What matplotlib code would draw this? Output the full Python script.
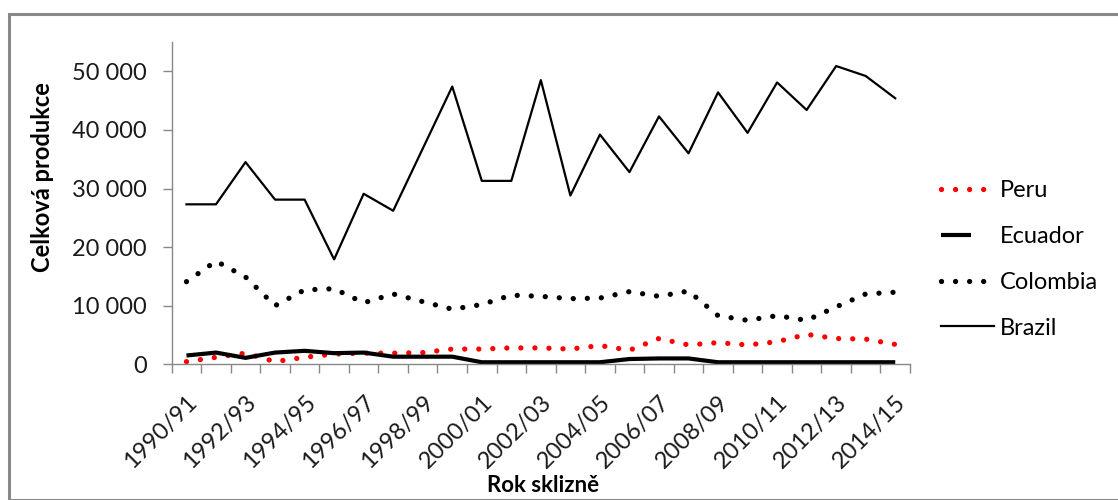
import matplotlib
matplotlib.use("Agg")
import numpy as np
import matplotlib.pyplot as plt
import matplotlib.transforms as mtransforms
from matplotlib.ticker import FuncFormatter, FixedLocator
from matplotlib.patches import Rectangle
from matplotlib.legend_handler import HandlerLine2D

years = ["1990/91", "1991/92", "1992/93", "1993/94", "1994/95", "1995/96", "1996/97",
         "1997/98", "1998/99", "1999/00", "2000/01", "2001/02", "2002/03", "2003/04",
         "2004/05", "2005/06", "2006/07", "2007/08", "2008/09", "2009/10", "2010/11",
         "2011/12", "2012/13", "2013/14", "2014/15"]

peru = [450, 1200, 1900, 450, 1200, 1750, 1900, 1900, 2000, 2600, 2600, 2800, 2800,
        2600, 3200, 2400, 4400, 3300, 3700, 3300, 3850, 5100, 4400, 4300, 3400]
ecuador = [1500, 2000, 1100, 2000, 2300, 1900, 2000, 1300, 1300, 1300, 350, 350, 350,
           350, 350, 900, 1000, 1000, 350, 350, 350, 350, 350, 350, 350]
colombia = [14100, 17600, 14900, 10000, 12700, 12900, 10500, 12000, 10700, 9400, 10200,
            11800, 11600, 11200, 11300, 12400, 11600, 12500, 8300, 7500, 8300, 7500,
            9800, 12000, 12300]
brazil = [27300, 27300, 34500, 28100, 28100, 17900, 29100, 26200, 36800, 47400, 31300,
          31300, 48500, 28800, 39200, 32800, 42300, 36000, 46400, 39500, 48100, 43400,
          50900, 49200, 45400]

FONT = "Lato"
plt.rcParams['font.family'] = [FONT, 'DejaVu Sans']

fig = plt.figure(figsize=(11.18, 5.0), dpi=100)
W, H = 1118, 500
ax = fig.add_axes([171.7 / W, 1 - 364.3 / H, (910 - 171.7) / W, (364.3 - 42) / H])

x = list(range(len(years)))
ax.plot(x, peru, color="red", lw=3.8, linestyle=(0, (0.01, 2.65)),
        dash_capstyle="round", label="Peru")
l_ec, = ax.plot(x, ecuador, color="black", lw=3.0, solid_capstyle="butt", label="Ecuador")
ax.plot(x, colombia, color="black", lw=3.8, linestyle=(0, (0.01, 2.65)),
        dash_capstyle="round", label="Colombia")
ax.plot(x, brazil, color="black", lw=1.6, label="Brazil")

ax.set_xlim(-0.5, len(years) - 0.5)
ax.set_ylim(0, 55000)
ax.set_yticks([0, 10000, 20000, 30000, 40000, 50000])
ax.yaxis.set_major_formatter(FuncFormatter(lambda v, p: f"{int(v):,}".replace(",", " ")))

ax.xaxis.set_major_locator(FixedLocator([i - 0.5 for i in range(len(years) + 1)]))
ax.xaxis.set_major_formatter(FuncFormatter(lambda v, p: ""))
ax.set_xticks(x[::2], minor=True)
labels = ax.set_xticklabels(years[::2], minor=True, rotation=45, ha="right", va="top",
                            rotation_mode="anchor", fontsize=17, color="#1a1a1a")
offset = mtransforms.ScaledTranslation(6 / 100, 0, fig.dpi_scale_trans)
for t in labels:
    t.set_transform(t.get_transform() + offset)
ax.tick_params(axis="x", which="minor", length=0, pad=19.5)
ax.tick_params(axis="x", which="major", length=6.5, color="#888888", width=1)
ax.tick_params(axis="y", length=6.5, color="#888888", width=1, labelsize=17,
               labelcolor="#1a1a1a", pad=11.5)

for s in ["top", "right"]:
    ax.spines[s].set_visible(False)
for s in ["left", "bottom"]:
    ax.spines[s].set_color("#888888")
    ax.spines[s].set_linewidth(1)

ax.set_xlabel("Rok sklizně", fontsize=16, fontweight="bold", va="center")
ax.xaxis.set_label_coords(0.503, (364.3 - 486) / 322.3)
ax.set_ylabel("Celková produkce", fontsize=17, fontweight="bold", va="center")
ax.yaxis.set_label_coords((43 - 171.7) / 738.3, (364.3 - 177) / 322.3)


class ShortHandler(HandlerLine2D):
    def create_artists(self, legend, orig_handle, xdescent, ydescent, width, height,
                       fontsize, trans):
        arts = super().create_artists(legend, orig_handle, xdescent, ydescent, width,
                                      height, fontsize, trans)
        line = arts[0]
        xd = np.asarray(line.get_xdata(), dtype=float)
        yd = np.asarray(line.get_ydata(), dtype=float)
        n = len(yd)
        line.set_data(np.linspace(xd[0], xd[0] + (xd[-1] - xd[0]) * 0.57, n), yd)
        return arts


leg = ax.legend(loc="center left", bbox_to_anchor=(929 / W, 1 - 259.5 / H),
                bbox_transform=fig.transFigure, frameon=False, fontsize=17,
                handlelength=2.25, handletextpad=0.25, labelspacing=1.05,
                borderpad=0, handler_map={l_ec: ShortHandler()})

fig.patches.append(Rectangle((9 / W, 0), 1.2, 1 - 14 / H, transform=fig.transFigure,
                             fill=False, edgecolor="#888888", lw=2.2))

fig.savefig("out.png", dpi=100)
